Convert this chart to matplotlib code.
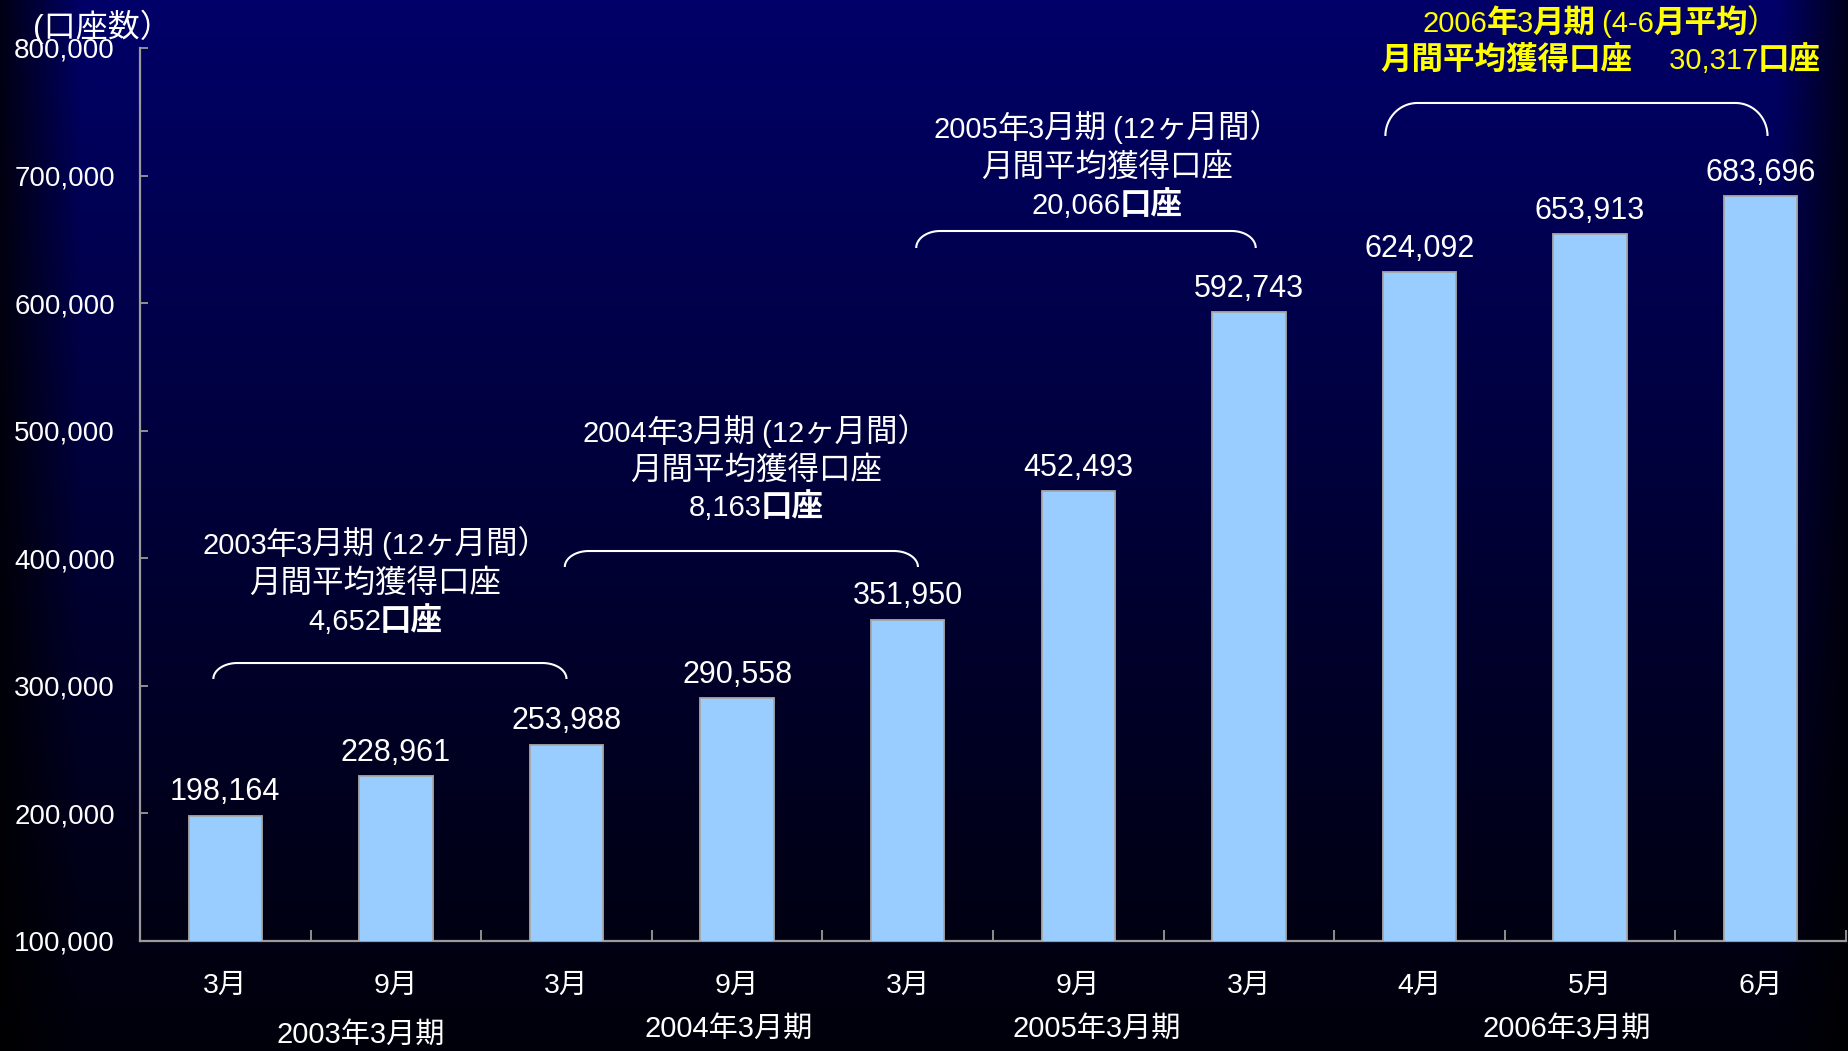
import numpy as np
import matplotlib
matplotlib.use("Agg")
import matplotlib.pyplot as plt
import matplotlib.transforms as mtransforms

# ---------------- data ----------------
categories = ['3月', '9月', '3月', '9月', '3月', '9月', '3月', '4月', '5月', '6月']
accounts = [198164, 228961, 253988, 290558, 351950, 452493, 592743, 624092, 653913, 683696]
yticks = [100000, 200000, 300000, 400000, 500000, 600000, 700000, 800000]

periods = ['2003年3月期', '2004年3月期', '2005年3月期', '2006年3月期']
period_x = [0.795, 2.95, 5.11, 7.86]
period_y_px = [1035, 1029, 1029, 1029]

# annotation blocks: lines of (text, bold) segments
ann_lines = [
    [[('2003年3月期 (12ヶ月間）', False)],
     [('月間平均獲得口座', False)],
     [('4,652', False), ('口座', True)]],
    [[('2004年3月期 (12ヶ月間）', False)],
     [('月間平均獲得口座', False)],
     [('8,163', False), ('口座', True)]],
    [[('2005年3月期 (12ヶ月間）', False)],
     [('月間平均獲得口座', False)],
     [('20,066', False), ('口座', True)]],
    [[('2006', False), ('年', True), ('3', False), ('月期', True), (' (4-6', False),
      ('月平均', True), ('）', False)],
     [('月間平均獲得口座', True), ('　 30,317', False), ('口座', True)]],
]
ann_x = [0.88, 3.11, 5.17, 8.06]
ann_y = [409620, 497420, 735720, 819000]
ann_color = ['white', 'white', 'white', '#FFFF00']
ann_spacing_px = [38, 37, 38, 37]

brace_x0 = [-0.07, 1.99, 4.05, 6.80]
brace_x1 = [2.00, 4.06, 6.04, 9.04]
brace_top = [317900, 405700, 656550, 756900]
brace_h_px = [16, 16, 17, 33]
brace_rx_px = [24, 24, 24, 32]

# ---------------- style ----------------
FAM = ['Liberation Sans', 'Noto Sans CJK JP', 'DejaVu Sans']
plt.rcParams['font.family'] = FAM
W, H, DPI = 1849, 1051, 100
CJK_SCALE = 1.08

fig = plt.figure(figsize=(W / DPI, H / DPI), dpi=DPI)

# background gradient
bg = fig.add_axes([0, 0, 1, 1], zorder=-10)
gy = np.linspace(0, 1, 300)[:, None]
gx = np.linspace(0, W, 600)[None, :]
vert = 0.41 * (1 - gy) ** 1.1 + 0.045 * gy
hfac = np.minimum(1, np.minimum(0.2 + 0.8 * gx / 80.0, 0.25 + 0.75 * (W - gx) / 70.0))
img = np.zeros((300, 600, 3))
img[..., 2] = vert * hfac
bg.imshow(img, aspect='auto', extent=[0, 1, 0, 1], interpolation='bilinear')
bg.set_axis_off()

left, right, top, bottom = 140, 1846, 48, 941
ax = fig.add_axes([left / W, (H - bottom) / H, (right - left) / W, (bottom - top) / H])
ax.set_facecolor('none')

x = np.arange(len(categories))
ax.bar(x, accounts, width=0.43, color='#99CCFF', edgecolor='#A8A8A8',
       linewidth=1.3, zorder=3)
ax.set_xlim(-0.5, len(categories) - 0.5)
ax.set_ylim(100000, 800000)

for s in ['top', 'right']:
    ax.spines[s].set_visible(False)
for s in ['left', 'bottom']:
    ax.spines[s].set_color('#9A9A9A')
    ax.spines[s].set_linewidth(1.6)

ax.set_yticks(yticks)
ax.set_yticklabels([f'{v:,}' for v in yticks])
ax.tick_params(axis='y', direction='in', length=6, width=1.3, color='#9A9A9A',
               labelcolor='white', labelsize=20, pad=18)

ax.set_xticks(x)
ax.set_xticklabels(categories)
ax.tick_params(axis='x', which='major', length=0, labelcolor='white', labelsize=20.5, pad=23)
ax.set_xticks(np.arange(-0.5, len(categories), 1.0)[1:], minor=True)
ax.tick_params(axis='x', which='minor', direction='in', length=8, width=1.3, color='#9A9A9A')

# value labels
for xi, v in zip(x, accounts):
    ax.annotate(f'{v:,}', xy=(xi, v), xytext=(0, 11), textcoords='offset points',
                ha='center', va='baseline', color='white', fontsize=22, zorder=5)

# period labels
tr = mtransforms.blended_transform_factory(ax.transData, fig.transFigure)
for px, py, lab in zip(period_x, period_y_px, periods):
    ax.text(px, 1 - py / H, lab, transform=tr, ha='center', va='center',
            color='white', fontsize=21, clip_on=False)

# y-axis unit
fig.text(33 / W, 1 - 27 / H, '(口座数）', ha='left', va='center', color='white', fontsize=23)

renderer = fig.canvas.get_renderer()


def is_cjk(ch):
    return ord(ch) >= 0x2E80


def split_runs(s):
    runs = []
    for ch in s:
        c = is_cjk(ch)
        if runs and runs[-1][1] == c:
            runs[-1][0] += ch
        else:
            runs.append([ch, c])
    return runs


def rich_line(xd, yd, segs, color, size, dy_px, gap_px=-1.0):
    texts, widths = [], []
    for s, b in segs:
        for run, c in split_runs(s):
            t = ax.text(xd, yd, run, fontsize=size * (CJK_SCALE if c else 1.0),
                        fontweight='bold' if b else 'normal',
                        color=color, ha='left', va='center', clip_on=False, zorder=6)
            w = t.get_window_extent(renderer).width
            texts.append(t)
            widths.append(w)
    total = sum(widths) + gap_px * (len(widths) - 1)
    off = -total / 2
    for t, w in zip(texts, widths):
        t.set_transform(mtransforms.offset_copy(ax.transData, fig=fig, x=off * 72 / DPI,
                                                y=-dy_px * 72 / DPI, units='points'))
        off += w + gap_px


for lines, xa, ya, col, sp in zip(ann_lines, ann_x, ann_y, ann_color, ann_spacing_px):
    for i, segs in enumerate(lines):
        rich_line(xa, ya, segs, col, 21, i * sp)

# braces
inv = ax.transData.inverted()
for x0, x1, yt, hp, rx in zip(brace_x0, brace_x1, brace_top, brace_h_px, brace_rx_px):
    p0 = ax.transData.transform((x0, yt))
    p1 = ax.transData.transform((x1, yt))
    th = np.linspace(0, np.pi / 2, 30)
    lx = p0[0] + rx - rx * np.cos(th)
    ly = p0[1] - hp + hp * np.sin(th)
    rxs = p1[0] - rx + rx * np.sin(th)
    rys = p1[1] - hp + hp * np.cos(th)
    d = inv.transform(np.column_stack([np.concatenate([lx, rxs]), np.concatenate([ly, rys])]))
    ax.plot(d[:, 0], d[:, 1], color='white', linewidth=1.5, clip_on=False, zorder=6,
            solid_capstyle='butt')

fig.savefig('out.png', dpi=DPI)
